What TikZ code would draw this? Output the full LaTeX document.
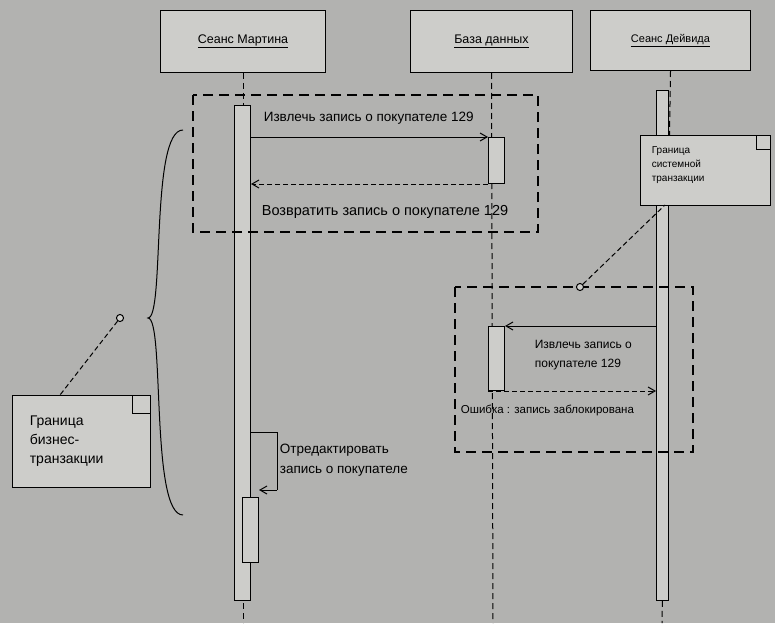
\documentclass[tikz,border=0pt]{standalone}
\usepackage{fontspec}
\setmainfont{Liberation Sans}
\setsansfont{Liberation Sans}
\usetikzlibrary{arrows.meta}
\usetikzlibrary{positioning}
\usetikzlibrary{calc}
\definecolor{paper}{RGB}{178,178,176}
\definecolor{boxfill}{RGB}{205,205,202}
\newcommand{\fs}[1]{\fontsize{#1}{#1}\selectfont}
\begin{document}
\begin{tikzpicture}[x=1pt,y=-1pt,
  font=\sffamily\fs{13.5},
  line width=1pt,
  object/.style={draw,fill=boxfill,minimum width=165pt,minimum height=62pt,anchor=north west},
  act/.style={draw,fill=boxfill,minimum width=16pt,anchor=north west,inner sep=0pt},
  life/.style={dash pattern=on 6pt off 4pt},
  frame/.style={draw,line width=1.3pt,dash pattern=on 10pt off 6pt},
  msg/.style={-{Straight Barb[length=7pt,width=8pt]}},
  ret/.style={msg,dash pattern=on 5pt off 3pt},
  note/.style={draw,fill=boxfill,align=left,anchor=north west,inner sep=0pt},
  every node/.style={align=left}]

  % background of the scan
  \fill[paper] (0,0) rectangle (775,623);
  \useasboundingbox (0,0) rectangle (775,623);

  % objects
  \node[object,font=\sffamily\fs{12.5}] (martin) at (160,10) {\underline{Сеанс Мартина}};
  \node[object,minimum width=162pt,font=\sffamily\fs{12.5}] (db) at (410,10) {\underline{База данных}};
  \node[object,minimum width=160pt,minimum height=60pt,font=\sffamily\fs{11}] (david) at (590,10) {\underline{Сеанс Дейвида}};

  % lifelines
  \coordinate (mend) at (243,623);
  \coordinate (dend) at (493,623);
  \coordinate (vend) at (662,623);
  \draw[life] (martin.south) -- (mend);
  \draw[life] (db.south) -- (dend);
  \draw[life] (david.south) -- (vend);

  % activations
  \node[act,minimum height=495pt] (ma) at (234,105) {};
  \node[act,minimum height=65pt] (mb) at (242,497) {};
  \node[act,minimum height=46pt] (da) at (488,137) {};
  \node[act,minimum height=64pt] (db2) at (488,326) {};
  \node[act,minimum width=12pt,minimum height=510pt] (va) at (656,90) {};

  % transaction frames
  \draw[frame] (193,95) rectangle (538,232);
  \draw[frame] (455,287) rectangle (693,452);

  % messages of the business transaction
  \draw[msg] (ma.north east |- 0,137) -- (da.north west);
  \node[anchor=south west] (m1) at (260,128) {Извлечь запись о покупателе 129};
  \draw[ret] (da.south west) -- (ma.east |- da.south west);
  \node[anchor=west,font=\sffamily\fs{14.5}] (m2) at (258,212) {Возвратить запись о покупателе 129};

  % self call
  \coordinate (s1) at (277,432);
  \coordinate (s2) at (277,490);
  \draw (ma.east |- s1) -- (s1) -- (s2);
  \draw[msg] (s2) -- (mb.east |- s2);
  \node[anchor=north west,align=left] (m3) at (276,440) {Отредактировать\\[7pt]запись о покупателе};

  % messages of the system transaction
  \draw[msg] (va.west |- db2.north east) -- (db2.north east);
  \node[anchor=north west,font=\sffamily\fs{12}] (m4) at (531,336) {Извлечь запись о\\[7pt]покупателе 129};
  \draw[ret] (db2.south west) -- (va.west |- db2.south west);
  \node[anchor=west,font=\sffamily\fs{11.5}] (m5) at (457,410) {Ошибка : запись заблокирована};

  % brace
  \draw (183,130) .. controls (150,130) and (165,318) .. (148,318)
               .. controls (165,318) and (150,515) .. (183,515);

  % notes
  \node[note,minimum width=138pt,minimum height=92pt] (bnote) at (12,395) {};
  \node[anchor=north west,font=\sffamily\fs{14}] at (26,412) {Граница\\[5pt]бизнес-\\[5pt]транзакции};
  \draw[fill=boxfill] (132,395) -- (132,413) -- (150,413);
  \node[note,minimum width=130pt,minimum height=70pt] (snote) at (640,135) {};
  \node[anchor=north west,font=\sffamily\fs{10}] at (648,143) {Граница\\[4pt]системной\\[4pt]транзакции};
  \draw[fill=boxfill] (756,135) -- (756,149) -- (770,149);

  % anchors of the notes
  \node[draw,circle,fill=boxfill,inner sep=2.5pt] (c1) at (120,318) {};
  \node[draw,circle,fill=boxfill,inner sep=2.5pt] (c2) at (580,287) {};
  \draw[dash pattern=on 5pt off 3pt] (c1) -- (60,395);
  \draw[dash pattern=on 5pt off 3pt] (c2) -- (665,205);
\end{tikzpicture}
\end{document}
